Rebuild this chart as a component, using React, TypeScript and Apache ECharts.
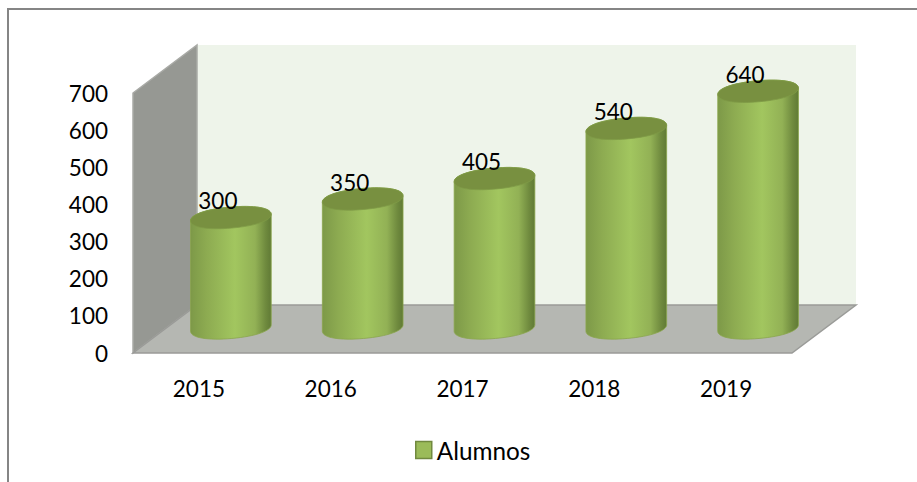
import React, { useEffect, useRef } from "react";
import * as echarts from "echarts";

const categories = ["2015", "2016", "2017", "2018", "2019"];
const alumnos = [300, 350, 405, 540, 640];
const seriesName = "Alumnos";
const yMax = 700;
const yStep = 100;

const FONT = "Lato, 'Open Sans', sans-serif";
const DEPTH_X = 64;
const DEPTH_Y = -48;

const renderWalls = (params: any, api: any) => {
  const cs = params.coordSys;
  const x0 = cs.x, y0 = cs.y, w = cs.width, h = cs.height;
  const dx = DEPTH_X, dy = DEPTH_Y;
  const poly = (points: number[][], fill: string, stroke: string) => ({
    type: "polygon",
    shape: { points },
    style: { fill, stroke, lineWidth: 1.5 },
  });
  return {
    type: "group",
    children: [
      { type: "rect", shape: { x: x0 + dx, y: y0 + dy, width: w, height: h }, style: { fill: "#eef4ea" } },
      poly([[x0, y0], [x0 + dx, y0 + dy], [x0 + dx, y0 + dy + h], [x0, y0 + h]], "#969893", "#a9aaa6"),
      poly([[x0, y0 + h], [x0 + dx, y0 + h + dy], [x0 + w + dx, y0 + h + dy], [x0 + w, y0 + h]], "#b5b7b2", "#9a9b98"),
    ],
  };
};

// Tilted-ellipse outline built from cubic segments (param K slightly rounder than a true ellipse).
const ellipsePoint = (cx: number, cy: number, u: number, v: number) => {
  const a = 40.5, b = 10.5, t = (-5 * Math.PI) / 180;
  const X = u * a, Y = v * b;
  return `${cx + X * Math.cos(t) - Y * Math.sin(t)} ${cy + X * Math.sin(t) + Y * Math.cos(t)}`;
};
const K = 0.6;
const seg = (cx: number, cy: number, p: number[][]) =>
  `C${ellipsePoint(cx, cy, p[0][0], p[0][1])} ${ellipsePoint(cx, cy, p[1][0], p[1][1])} ${ellipsePoint(cx, cy, p[2][0], p[2][1])}`;
// from left end via bottom to right end
const lowerHalf = (cx: number, cy: number) =>
  seg(cx, cy, [[-1, K], [-K, 1], [0, 1]]) + seg(cx, cy, [[K, 1], [1, K], [1, 0]]);
// from right end via top to left end
const upperHalf = (cx: number, cy: number) =>
  seg(cx, cy, [[1, -K], [K, -1], [0, -1]]) + seg(cx, cy, [[-K, -1], [-1, -K], [-1, 0]]);

const renderCylinder = (params: any, api: any) => {
  const cat = api.value(0);
  const val = api.value(1);
  const base = api.coord([cat, 0]);
  const top = api.coord([cat, val]);
  const cx = base[0] + DEPTH_X / 2;
  const yb = base[1] + DEPTH_Y / 2 - 1;
  const yt = top[1] + DEPTH_Y / 2;
  const leftTop = ellipsePoint(cx, yt, -1, 0);
  const leftBottom = ellipsePoint(cx, yb, -1, 0);
  const rightTop = ellipsePoint(cx, yt, 1, 0);
  const body = `M${leftTop}L${leftBottom}${lowerHalf(cx, yb)}L${rightTop}${upperHalf(cx, yt)}Z`;
  const cap = `M${leftTop}${lowerHalf(cx, yt)}${upperHalf(cx, yt)}Z`;
  return {
    type: "group",
    children: [
      {
        type: "path",
        shape: { pathData: body },
        style: {
          fill: new echarts.graphic.LinearGradient(0, 0, 1, 0, [
            { offset: 0, color: "#7d9948" },
            { offset: 0.2, color: "#8dab51" },
            { offset: 0.55, color: "#a2c65f" },
            { offset: 0.8, color: "#92b155" },
            { offset: 0.93, color: "#6f8a3e" },
            { offset: 1, color: "#607a35" },
          ]),
          stroke: "#8aa64c",
          lineWidth: 0.8,
        },
      },
      {
        type: "path",
        shape: { pathData: cap },
        style: { fill: "#789040", stroke: "#7f9a46", lineWidth: 0.8 },
      },
      {
        type: "text",
        style: {
          text: String(val),
          x: cx - 13,
          y: yt - 17,
          align: "center",
          verticalAlign: "middle",
          fill: "#000000",
          font: `22.5px ${FONT}`,
        },
      },
    ],
  };
};

export default function App() {
  const ref = useRef<HTMLDivElement>(null);
  useEffect(() => {
    document.body.style.margin = "0";
    const chart = echarts.init(ref.current!, undefined, { renderer: "svg" });
    chart.setOption({
      animation: false,
      backgroundColor: "#ffffff",
      grid: { left: 133, top: 93, width: 659, height: 260, containLabel: false },
      legend: {
        data: [{ name: seriesName, icon: "rect", itemStyle: { color: "#9bbb59", borderColor: "#71893f", borderWidth: 1.5 } }],
        left: 415,
        top: 438,
        itemWidth: 16,
        itemHeight: 17,
        itemGap: 4,
        padding: 0,
        textStyle: { fontFamily: FONT, fontSize: 24.3, color: "#000000", padding: [0, 0, 0, 0] },
      },
      xAxis: {
        type: "category",
        data: categories,
        axisLine: { show: false },
        axisTick: { show: false },
        axisLabel: { fontFamily: FONT, fontSize: 22.5, color: "#000000", margin: 24 },
      },
      yAxis: {
        type: "value",
        min: 0,
        max: yMax,
        interval: yStep,
        axisLine: { show: false },
        axisTick: { show: false },
        splitLine: { show: false },
        axisLabel: { fontFamily: FONT, fontSize: 22.5, color: "#000000", margin: 25, padding: [2, 0, 0, 0] },
      },
      graphic: [
        {
          type: "polyline",
          silent: true,
          shape: { points: [[8, 482], [8, 9], [917, 9]] },
          style: { fill: "none", stroke: "#858585", lineWidth: 2 },
          z: -1,
        },
      ],
      series: [
        {
          type: "custom",
          name: "walls",
          data: [[0, 0]],
          renderItem: renderWalls,
          silent: true,
          clip: false,
          z: 1,
        },
        {
          type: "custom",
          name: seriesName,
          data: alumnos.map((v, i) => [i, v]),
          encode: { x: 0, y: 1 },
          renderItem: renderCylinder,
          clip: false,
          z: 2,
        },
      ],
    });
    return () => chart.dispose();
  }, []);
  return <div ref={ref} style={{ width: 917, height: 482 }} />;
}
